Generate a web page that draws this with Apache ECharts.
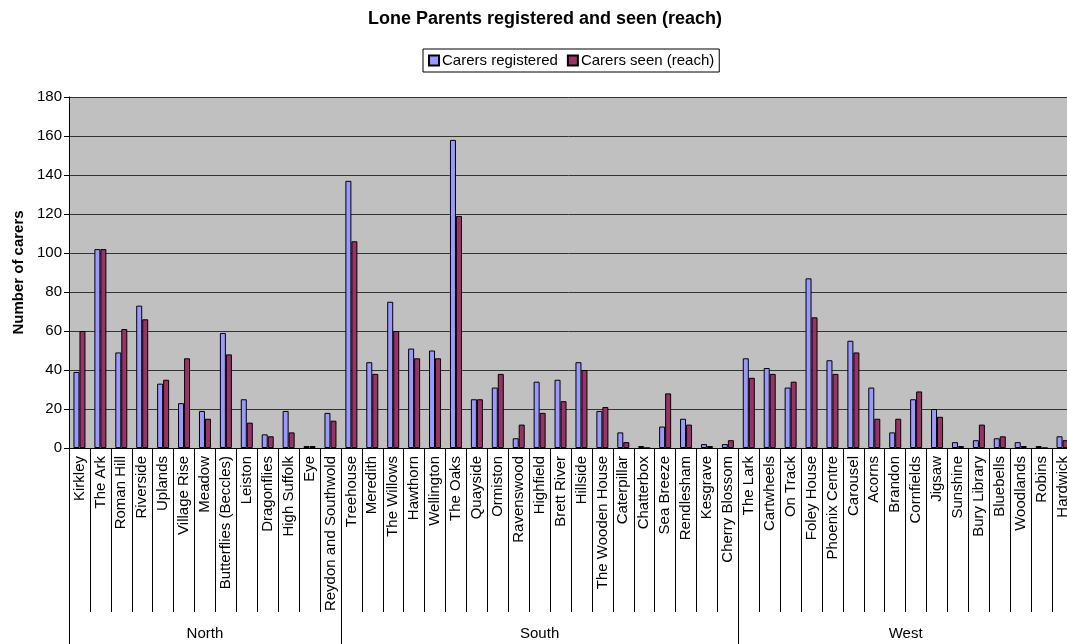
<!DOCTYPE html>
<html>
<head>
<meta charset="utf-8">
<script src="https://cdn.jsdelivr.net/npm/echarts@6/dist/echarts.min.js"></script>
<style>
  html, body { margin: 0; padding: 0; background: #fff; }
  #chart { width: 1067px; height: 644px; }
</style>
</head>
<body>
<div id="chart"></div>
<script>
// Children's centres, grouped by area
const groups = ['North', 'South', 'West'];
const northCentres = ['Kirkley', 'The Ark', 'Roman Hill', 'Riverside', 'Uplands', 'Village Rise', 'Meadow',
  'Butterflies (Beccles)', 'Leiston', 'Dragonflies', 'High Suffolk', 'Eye', 'Reydon and Southwold'];
const southCentres = ['Treehouse', 'Meredith', 'The Willows', 'Hawthorn', 'Wellington', 'The Oaks', 'Quayside',
  'Ormiston', 'Ravenswood', 'Highfield', 'Brett River', 'Hillside', 'The Wooden House', 'Caterpillar',
  'Chatterbox', 'Sea Breeze', 'Rendlesham', 'Kesgrave', 'Cherry Blossom'];
const westCentres = ['The Lark', 'Cartwheels', 'On Track', 'Foley House', 'Phoenix Centre', 'Carousel', 'Acorns',
  'Brandon', 'Cornfields', 'Jigsaw', 'Sunshine', 'Bury Library', 'Bluebells', 'Woodlands', 'Robins', 'Hardwick'];

// Carers registered per centre
const northRegistered = [39, 102, 49, 73, 33, 23, 19, 59, 25, 7, 19, 1, 18];
const southRegistered = [137, 44, 75, 51, 50, 158, 25, 31, 5, 34, 35, 44, 19, 8, 1, 11, 15, 2, 2];
const westRegistered = [46, 41, 31, 87, 45, 55, 31, 8, 25, 20, 3, 4, 5, 3, 1, 6];

// Carers seen (reach) per centre
const northSeen = [60, 102, 61, 66, 35, 46, 15, 48, 13, 6, 8, 1, 14];
const southSeen = [106, 38, 60, 46, 46, 119, 25, 38, 12, 18, 24, 40, 21, 3, 0, 28, 12, 1, 4];
const westSeen = [36, 38, 34, 67, 38, 49, 15, 15, 29, 16, 1, 12, 6, 1, 0, 4];

const yTicks = { min: 0, max: 180, interval: 20 };

const categories = northCentres.concat(southCentres, westCentres);
const registered = northRegistered.concat(southRegistered, westRegistered);
const seen = northSeen.concat(southSeen, westSeen);

// Group boundaries and centres on a 0..N scale matching the category slots
const groupSizes = [northCentres.length, southCentres.length, westCentres.length];
const groupEdges = [0];
groupSizes.forEach(n => groupEdges.push(groupEdges[groupEdges.length - 1] + n));
const groupMids = groupSizes.map((n, i) => groupEdges[i] + n / 2);

const FONT = 'Liberation Sans, Arial, sans-serif';
const chart = echarts.init(document.getElementById('chart'), null, { renderer: 'canvas' });

chart.setOption({
  backgroundColor: '#ffffff',
  animation: false,
  textStyle: { fontFamily: FONT, color: '#000' },
  title: {
    text: 'Lone Parents registered and seen (reach)',
    left: 540,
    textAlign: 'center',
    top: 5,
    textStyle: { fontFamily: FONT, fontSize: 18, fontWeight: 'bold', color: '#000' }
  },
  legend: {
    left: 423,
    top: 49,
    padding: [4, 5],
    itemGap: 9,
    itemWidth: 10,
    itemHeight: 10,
    icon: 'rect',
    borderColor: '#000',
    borderWidth: 1,
    backgroundColor: '#fff',
    textStyle: { fontFamily: FONT, fontSize: 15, color: '#000', padding: [0, 0, 0, -2] },
    data: ['Carers registered', 'Carers seen (reach)']
  },
  grid: {
    left: 69,
    top: 97,
    bottom: 196,
    width: 1004,
    show: true,
    backgroundColor: '#C0C0C0',
    borderWidth: 0,
    containLabel: false,
    outerBoundsMode: 'none'
  },
  xAxis: [
    {
      type: 'category',
      data: categories,
      position: 'bottom',
      boundaryGap: true,
      axisLine: { show: true, lineStyle: { color: '#000', width: 1 } },
      axisTick: { show: true, interval: 0, length: 164, lineStyle: { color: '#000', width: 1 } },
      axisLabel: {
        interval: 0,
        rotate: 90,
        margin: 8,
        fontFamily: FONT,
        fontSize: 15,
        color: '#000'
      },
      splitLine: { show: false }
    },
    {
      type: 'value',
      min: 0,
      max: categories.length,
      position: 'bottom',
      axisLine: { show: false },
      splitLine: { show: false },
      axisTick: {
        show: true,
        customValues: groupEdges,
        length: 196,
        lineStyle: { color: '#000', width: 1 }
      },
      axisLabel: {
        show: true,
        customValues: groupMids,
        margin: 178,
        fontFamily: FONT,
        fontSize: 15,
        color: '#000',
        formatter: function (v) {
          const i = groupMids.indexOf(v);
          return i >= 0 ? groups[i] : '';
        }
      }
    }
  ],
  yAxis: {
    type: 'value',
    min: yTicks.min,
    max: yTicks.max,
    interval: yTicks.interval,
    name: 'Number of carers',
    nameLocation: 'middle',
    nameGap: 43,
    nameRotate: 90,
    nameTextStyle: { fontFamily: FONT, fontSize: 15, fontWeight: 'bold', color: '#000' },
    axisLine: { show: true, lineStyle: { color: '#000', width: 1 } },
    axisTick: { show: true, length: 5, lineStyle: { color: '#000', width: 1 } },
    axisLabel: { fontFamily: FONT, fontSize: 15, color: '#000', margin: 7 },
    splitLine: { show: true, lineStyle: { color: '#333', width: 1 } }
  },
  series: [
    {
      name: 'Carers registered',
      type: 'bar',
      xAxisIndex: 0,
      data: registered,
      barWidth: 6,
      barGap: '0%',
      itemStyle: { color: '#9999FF', borderColor: '#000', borderWidth: 1 }
    },
    {
      name: 'Carers seen (reach)',
      type: 'bar',
      xAxisIndex: 0,
      data: seen,
      barWidth: 6,
      barGap: '0%',
      itemStyle: { color: '#993366', borderColor: '#000', borderWidth: 1 }
    }
  ]
});
</script>
</body>
</html>
